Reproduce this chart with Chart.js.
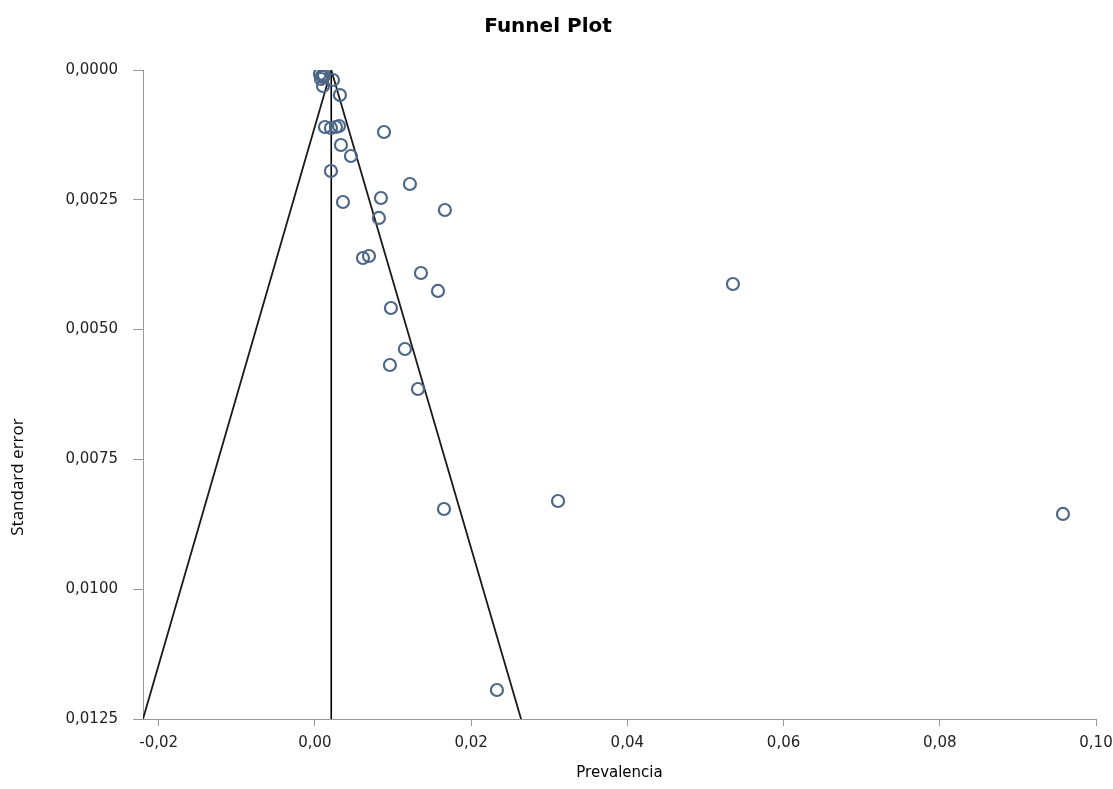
<!DOCTYPE html>
<html>
<head>
<meta charset="utf-8">
<script src="https://cdn.jsdelivr.net/npm/chart.js@4.4.1/dist/chart.umd.min.js"></script>
<style>
  html, body { margin: 0; padding: 0; background: #fff; }
  #wrap { width: 1113px; height: 789px; position: relative; }
</style>
</head>
<body>
<div id="wrap"><canvas id="grafica"></canvas></div>
<script>
// estudios: prevalencia y error estandar
var prevalencia = [0.00065, 0.00091, 0.00116, 0.00078, 0.00104, 0.00232, 0.00104, 0.00321,
                   0.00129, 0.00206, 0.00270, 0.00309, 0.00885, 0.00334, 0.00462, 0.00206,
                   0.01217, 0.00846, 0.00360, 0.01665, 0.00820, 0.00616, 0.00693, 0.01358,
                   0.01576, 0.05352, 0.00974, 0.01153, 0.00961, 0.01320, 0.03113, 0.01653,
                   0.09577, 0.02331];
var errorEstandar = [0.000077, 0.000116, 0.000096, 0.000173, 0.000135, 0.000193, 0.000308, 0.000482,
                     0.001098, 0.001117, 0.001098, 0.001079, 0.001194, 0.001445, 0.001656, 0.001945,
                     0.002196, 0.002465, 0.002542, 0.002696, 0.002850, 0.003621, 0.003582, 0.003910,
                     0.004256, 0.004122, 0.004584, 0.005374, 0.005682, 0.006144, 0.008301, 0.008455,
                     0.008551, 0.011941];

// embudo (IC 95%) y linea central
var embudoX = [-0.0220, 0.0021, 0.0264];
var embudoY = [0.0125, 0.0, 0.0125];
var centroX = [0.0021, 0.0021];
var centroY = [0.0, 0.0125];

var ticksX = [-0.02, 0.00, 0.02, 0.04, 0.06, 0.08, 0.10];
var ticksY = [0.0000, 0.0025, 0.0050, 0.0075, 0.0100, 0.0125];

function pares(xs, ys) {
    var out = [];
    for (let i = 0; i < xs.length; i++) {
        out.push({x: xs[i], y: ys[i]});
    }
    return out;
}

// titulo vertical del eje y (no va centrado en el eje en el original)
var tituloY = {
    id: 'tituloY',
    afterDraw: function(chart) {
        var ctx = chart.ctx;
        ctx.save();
        ctx.translate(18, 477);
        ctx.rotate(-Math.PI / 2);
        ctx.font = '17px "Open Sans"';
        ctx.fillStyle = '#000';
        ctx.textAlign = 'center';
        ctx.textBaseline = 'middle';
        ctx.fillText('Standard error', 0, 0);
        ctx.restore();
    }
};

var ctx = document.getElementById('grafica').getContext('2d');
var myChart = new Chart(ctx, {
    type: 'scatter',
    data: {
        datasets: [{
            label: 'Estudios',
            data: pares(prevalencia, errorEstandar),
            pointStyle: 'circle',
            pointRadius: 6,
            pointBorderWidth: 2.2,
            pointBorderColor: '#4d6788',
            pointBackgroundColor: 'rgba(255,255,255,0)',
            order: 1
        }, {
            label: 'Embudo',
            data: pares(embudoX, embudoY),
            showLine: true,
            borderColor: '#1a1a1a',
            borderWidth: 1.8,
            pointRadius: 0,
            order: 2
        }, {
            label: 'Centro',
            data: pares(centroX, centroY),
            showLine: true,
            borderColor: '#000',
            borderWidth: 1.6,
            pointRadius: 0,
            order: 2
        }]
    },
    options: {
        responsive: true,
        maintainAspectRatio: false,
        animation: false,
        layout: { padding: { left: 0, right: 17, top: 0, bottom: 0 } },
        plugins: {
            legend: { display: false },
            tooltip: { enabled: false },
            title: {
                display: true,
                text: 'Funnel Plot',
                color: '#000',
                font: { family: '"DejaVu Sans"', size: 20, weight: 'bold' },
                padding: { top: 15, bottom: 31 }
            }
        },
        scales: {
            x: {
                type: 'linear',
                min: -0.022,
                max: 0.10,
                afterBuildTicks: function(s) { s.ticks = ticksX.map(function(v) { return {value: v}; }); },
                afterFit: function(s) { s.height = 70; s.paddingRight = 0; s.paddingLeft = 0; },
                grid: { display: true, drawOnChartArea: false, drawTicks: true, tickLength: 7, color: '#999' },
                border: { display: true, color: '#999', width: 1 },
                ticks: {
                    color: '#222',
                    padding: 8,
                    maxRotation: 0,
                    font: { family: '"DejaVu Sans"', size: 15 },
                    callback: function(v) { return v.toFixed(2).replace('.', ','); }
                },
                title: {
                    display: true,
                    text: 'Prevalencia',
                    color: '#000',
                    font: { family: '"DejaVu Sans"', size: 15 },
                    padding: { top: 0, bottom: 7 }
                }
            },
            y: {
                type: 'linear',
                reverse: true,
                min: 0,
                max: 0.0125,
                afterBuildTicks: function(s) { s.ticks = ticksY.map(function(v) { return {value: v}; }); },
                afterFit: function(s) { s.width = 143; },
                grid: { display: true, drawOnChartArea: false, drawTicks: true, tickLength: 10, color: '#999' },
                border: { display: true, color: '#999', width: 1 },
                ticks: {
                    color: '#222',
                    padding: 15,
                    font: { family: '"DejaVu Sans"', size: 15 },
                    callback: function(v) { return v.toFixed(4).replace('.', ','); }
                }
            }
        }
    },
    plugins: [tituloY]
});
</script>
</body>
</html>
